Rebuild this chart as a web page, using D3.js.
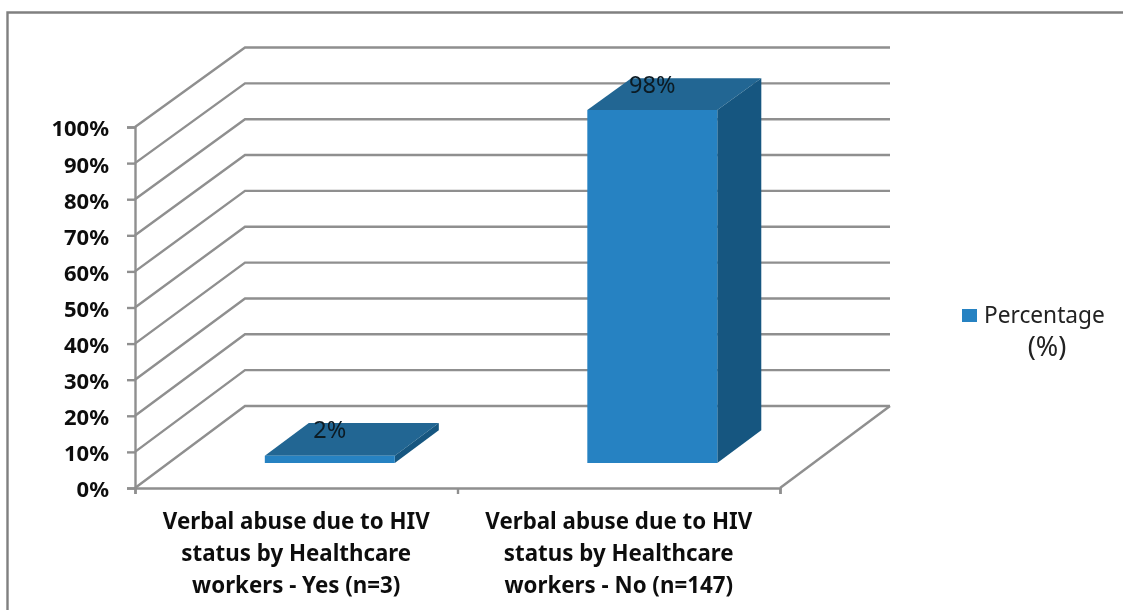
<!DOCTYPE html>
<html>
<head>
<meta charset="utf-8">
<script src="https://cdn.jsdelivr.net/npm/d3@7"></script>
<style>
  html, body { margin: 0; padding: 0; background: #fff; overflow: hidden; }
  text { font-family: "Noto Sans", sans-serif; fill: #111; }
  .tick-label { font-weight: 700; font-size: 22px; }
  .cat-label { font-weight: 700; font-size: 22.3px; text-anchor: middle; }
  .val-label { font-size: 23.5px; text-anchor: middle; fill: #0c1a24; }
  .legend-label { font-size: 22.7px; fill: #222; }
  .legend-unit { font-size: 27px; fill: #222; text-anchor: middle; }
</style>
</head>
<body>
<svg id="chart" width="1123" height="610"></svg>
<script>
var categories = [
  ["Verbal abuse due to HIV", "status by Healthcare", "workers - Yes (n=3)"],
  ["Verbal abuse due to HIV", "status by Healthcare", "workers - No (n=147)"]
];
var percentages = [2, 98];
var valueLabels = ["2%", "98%"];
var yTicks = [0, 10, 20, 30, 40, 50, 60, 70, 80, 90, 100];
var legendLines = ["Percentage", "(%)"];

var gridColor = "#8f8f8f";
var frontColor = "#2782c2";
var topColor = "#206693";
var sideColor = "#165780";

var svg = d3.select("#chart");

// the source is a slightly soft screenshot
svg.append("filter").attr("id", "soft")
  .attr("x", 0).attr("y", 0).attr("width", 1).attr("height", 1)
  .append("feGaussianBlur").attr("stdDeviation", 0.6);

var root = svg.append("g").attr("filter", "url(#soft)");
root.append("rect").attr("width", 1123).attr("height", 610).attr("fill", "#fff");

// frame of the chart area, open on the right
root.append("path")
  .attr("d", "M7.5,610V12.5H1123")
  .attr("fill", "none")
  .attr("stroke", "#808080")
  .attr("stroke-width", 2.4);

var x = d3.scaleBand()
  .domain(d3.range(categories.length))
  .range([135, 780])
  .paddingInner(0.597)
  .paddingOuter(0.2985);
var y = d3.scaleLinear().domain([0, 100]).range([488, 127]);
var yBack = d3.scaleLinear().domain([0, 100]).range([406, 47.5]);

// fake depth: z runs from the front plane (0) to the back wall (1)
var depthX = 110;
function px(xv, z) { return xv + depthX * z; }
function py(v, z) { return y(v) * (1 - z) + yBack(v) * z; }
var barZ0 = 0.305, barZ1 = 0.705;

// walls
var grid = root.append("g")
  .attr("fill", "none")
  .attr("stroke", gridColor)
  .attr("stroke-width", 2.4);

grid.selectAll("path.wall")
  .data(yTicks)
  .join("path")
  .classed("wall", true)
  .attr("d", function(d) {
    return d3.line()([
      [px(135, 0), py(d, 0)],
      [px(135, 1), py(d, 1)],
      [px(780, 1), py(d, 1)]
    ]);
  });

grid.append("path")
  .attr("d", d3.line()([[px(780, 0), py(0, 0)], [px(780, 1), py(0, 1)]]));

// y axis
var yAxis = d3.axisLeft(y)
  .tickValues(yTicks)
  .tickFormat(function(d) { return d + "%"; })
  .tickSize(8)
  .tickPadding(18);

var yG = root.append("g").attr("transform", "translate(135,0)").call(yAxis);
yG.selectAll("line,path").attr("stroke", gridColor).attr("stroke-width", 2.4);
yG.selectAll("text").attr("class", "tick-label").attr("fill", null).attr("dy", "1.4em").attr("dy", "0.36em");
yG.attr("font-family", null).attr("font-size", null);
yG.selectAll("text").attr("y", 1);

// x axis line, ticks sit on the category boundaries
var xBounds = [135, x.step() + 135, 780];
var xAxis = d3.axisBottom(d3.scaleLinear().domain([135, 780]).range([135, 780]))
  .tickValues(xBounds)
  .tickFormat("")
  .tickSize(6);
var xG = root.append("g").attr("transform", "translate(0,488)").call(xAxis);
xG.selectAll("line,path").attr("stroke", gridColor).attr("stroke-width", 2.4);

// bars
var bars = root.selectAll("g.bar")
  .data(percentages)
  .join("g")
  .classed("bar", true);

function poly(pts) { return d3.line()(pts) + "Z"; }

bars.append("path")
  .attr("fill", topColor)
  .attr("d", function(d, i) {
    var a = x(i), b = x(i) + x.bandwidth();
    return poly([
      [px(a, barZ0), py(d, barZ0)],
      [px(b, barZ0), py(d, barZ0)],
      [px(b, barZ1), py(d, barZ1)],
      [px(a, barZ1), py(d, barZ1)]
    ]);
  });

bars.append("path")
  .attr("fill", sideColor)
  .attr("d", function(d, i) {
    var b = x(i) + x.bandwidth();
    return poly([
      [px(b, barZ0), py(d, barZ0)],
      [px(b, barZ1), py(d, barZ1)],
      [px(b, barZ1), py(0, barZ1)],
      [px(b, barZ0), py(0, barZ0)]
    ]);
  });

bars.append("path")
  .attr("fill", frontColor)
  .attr("d", function(d, i) {
    var a = x(i), b = x(i) + x.bandwidth();
    return poly([
      [px(a, barZ0), py(d, barZ0)],
      [px(b, barZ0), py(d, barZ0)],
      [px(b, barZ0), py(0, barZ0)],
      [px(a, barZ0), py(0, barZ0)]
    ]);
  });

bars.append("text")
  .attr("class", "val-label")
  .attr("x", function(d, i) { return px(x(i) + x.bandwidth() / 2, barZ0); })
  .attr("y", function(d) { return py(d, barZ1) + 15; })
  .text(function(d, i) { return valueLabels[i]; });

// category labels
root.selectAll("text.cat-label")
  .data(categories)
  .join("text")
  .attr("class", "cat-label")
  .attr("x", function(d, i) { return x(i) + x.bandwidth() / 2; })
  .attr("y", 529)
  .selectAll("tspan")
  .data(function(d) { return d; })
  .join("tspan")
  .attr("x", function() { return d3.select(this.parentNode).attr("x"); })
  .attr("dy", function(d, i) { return i ? 32 : 0; })
  .text(function(d) { return d; });

// legend
root.append("rect")
  .attr("x", 962).attr("y", 309).attr("width", 15).attr("height", 13)
  .attr("fill", frontColor);
root.append("text").attr("class", "legend-label")
  .attr("x", 984).attr("y", 323).text(legendLines[0]);
root.append("text").attr("class", "legend-unit")
  .attr("x", 1047).attr("y", 356).text(legendLines[1]);
</script>
</body>
</html>
